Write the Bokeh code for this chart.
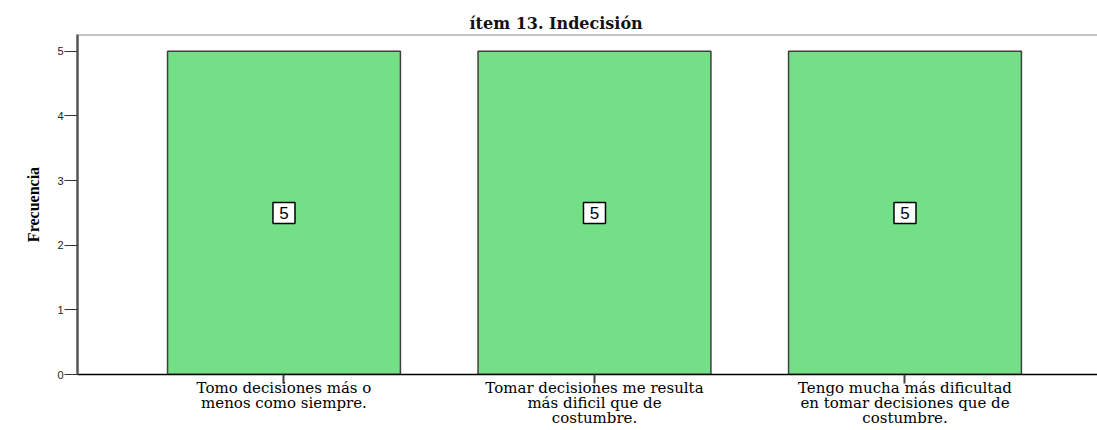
from bokeh.plotting import figure
from bokeh.models import ColumnDataSource, Range1d, FixedTicker, Span
from bokeh.core.properties import value
from bokeh.embed import file_html
from bokeh.resources import INLINE

categories = [
    "Tomo decisiones más o\nmenos como siempre.",
    "Tomar decisiones me resulta\nmás dificil que de\ncostumbre.",
    "Tengo mucha más dificultad\nen tomar decisiones que de\ncostumbre.",
]
values = [5, 5, 5]
y_ticks = [0, 1, 2, 3, 4, 5]

xs = list(range(len(categories)))
src = ColumnDataSource(dict(x=xs, top=values, mid=[v / 2 for v in values],
                            lab=[str(v) for v in values]))

p = figure(width=1097, height=430, output_backend="svg", toolbar_location=None,
           x_range=Range1d(-0.665, 2.62), y_range=Range1d(0, 5.26),
           min_border_left=77, min_border_right=0, min_border_top=34, min_border_bottom=50)

p.title.text = "ítem 13. Indecisión"
p.title.align = "left"
p.title.offset = 392
p.title.text_font = "DejaVu Serif"
p.title.text_font_size = "16px"
p.title.text_font_style = "bold"
p.title.text_color = "#111111"
p.title.standoff = 4

p.vbar(x="x", top="top", bottom=0, width=0.75, source=src,
       fill_color="#73DF87", line_color="#3f3f3f", line_width=1.5)

p.rect(x="x", y="mid", width=22, height=21, width_units="screen", height_units="screen",
       source=src, fill_color="white", line_color="black", line_width=1.5)
p.text(x="x", y="mid", text="lab", source=src, text_align="center", text_baseline="middle",
       text_font=value("Liberation Sans"), text_font_size="17px", text_color="black")

p.outline_line_color = None
p.add_layout(Span(location=5.26, dimension="width", line_color="#888888", line_width=2))
p.grid.visible = False

p.xaxis.ticker = FixedTicker(ticks=xs)
p.xaxis.major_label_overrides = {i: c for i, c in enumerate(categories)}
p.xaxis.major_label_text_font = "DejaVu Serif"
p.xaxis.major_label_text_font_size = "15px"
p.xaxis.major_label_text_color = "black"
p.xaxis.major_label_text_line_height = 0.85
p.xaxis.axis_line_color = "black"
p.xaxis.axis_line_width = 1.5
p.xaxis.major_tick_line_color = "#444444"
p.xaxis.major_tick_line_width = 2
p.xaxis.major_tick_in = 0
p.xaxis.major_tick_out = 9
p.xaxis.minor_tick_line_color = None
p.xaxis.major_label_standoff = -5

p.yaxis.ticker = FixedTicker(ticks=y_ticks)
p.yaxis.axis_label = "Frecuencia"
p.yaxis.axis_label_text_font = "Liberation Serif"
p.yaxis.axis_label_text_font_size = "16px"
p.yaxis.axis_label_text_font_style = "bold"
p.yaxis.axis_label_text_color = "black"
p.yaxis.axis_label_standoff = 12
p.yaxis.major_label_text_font = "Liberation Sans"
p.yaxis.major_label_text_font_size = "11px"
p.yaxis.major_label_text_color = "#222222"
p.yaxis.axis_line_color = "#555555"
p.yaxis.axis_line_width = 2.5
p.yaxis.major_tick_line_color = "#333333"
p.yaxis.major_tick_in = 0
p.yaxis.major_tick_out = 13
p.yaxis.minor_tick_line_color = None
p.yaxis.major_label_standoff = 1

open("out.html", "w").write(file_html(p, INLINE))
